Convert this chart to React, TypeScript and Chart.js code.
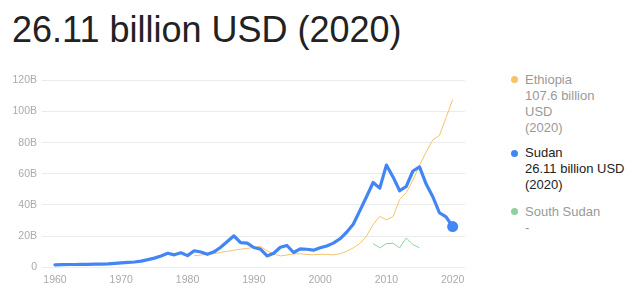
import React, { useEffect, useRef } from "react";
import { Chart, registerables } from "chart.js";

Chart.register(...registerables);

const years: number[] = Array.from({ length: 61 }, (_, i) => 1960 + i);

// GDP, billions of current USD
const sudan: (number | null)[] = [
  1.6, 1.7, 1.8, 1.8, 1.9, 1.9, 2.0, 2.1, 2.2, 2.5,
  2.8, 3.1, 3.4, 4.0, 4.9, 5.9, 7.2, 9.0, 8.0, 9.3,
  7.5, 10.6, 9.8, 8.3, 9.9, 12.9, 16.5, 20.2, 15.8, 15.5,
  12.7, 11.7, 7.3, 9.0, 12.9, 14.0, 9.5, 11.8, 11.6, 11.0,
  12.5, 13.7, 15.5, 18.3, 22.5, 27.6, 36.4, 45.3, 54.4, 50.8,
  65.6, 58.0, 49.1, 51.9, 61.8, 64.4, 53.4, 45.3, 35.0, 32.3,
  26.11,
];

const ethiopia: (number | null)[] = [
  null, null, null, null, null, null, null, null, null, null,
  null, null, null, null, null, null, null, null, null, null,
  null, 7.4, 7.9, 8.3, 8.7, 9.6, 10.2, 11.0, 11.6, 12.2,
  12.6, 13.5, 10.5, 8.6, 7.3, 7.9, 8.6, 8.7, 8.2, 8.0,
  8.3, 8.3, 8.0, 8.7, 10.2, 12.5, 15.3, 20.0, 27.5, 32.7,
  30.5, 32.5, 43.5, 48.0, 56.0, 65.5, 74.0, 81.8, 84.5, 96.0,
  107.6,
];

const southSudan: (number | null)[] = [
  null, null, null, null, null, null, null, null, null, null,
  null, null, null, null, null, null, null, null, null, null,
  null, null, null, null, null, null, null, null, null, null,
  null, null, null, null, null, null, null, null, null, null,
  null, null, null, null, null, null, null, null, 15.2, 12.5,
  15.2, 15.4, 12.5, 18.8, 14.6, 12.5, null, null, null, null,
  null,
];

const xTicks: number[] = [1960, 1970, 1980, 1990, 2000, 2010, 2020];
const yTicks: number[] = [0, 20, 40, 60, 80, 100, 120];

const title = "26.11 billion USD (2020)";

const legendItems = [
  { name: "Ethiopia", lines: ["107.6 billion", "USD", "(2020)"], color: "#f6c26b", text: "#999999", top: 71.5 },
  { name: "Sudan", lines: ["26.11 billion USD", "(2020)"], color: "#4285f4", text: "#222222", top: 145 },
  { name: "South Sudan", lines: ["-"], color: "#8fd19e", text: "#999999", top: 203.5 },
];

const FONT = '"Liberation Sans", Arial, sans-serif';

function toPoints(vals: (number | null)[]) {
  return years.map((y, i) => ({ x: y, y: vals[i] }));
}

export default function App() {
  const ref = useRef<HTMLCanvasElement | null>(null);

  useEffect(() => {
    if (!ref.current) return;
    const last = sudan.length - 1;
    const chart = new Chart(ref.current, {
      type: "line",
      data: {
        datasets: [
          {
            label: "Sudan",
            data: toPoints(sudan) as any,
            borderColor: "#4285f4",
            backgroundColor: "#4285f4",
            borderWidth: 3.2,
            pointRadius: (ctx: any) => (ctx.dataIndex === last ? 5.5 : 0),
            pointBorderWidth: 0,
            pointHoverRadius: 0,
            borderJoinStyle: "round",
            borderCapStyle: "round",
            tension: 0,
            order: 0,
          },
          {
            label: "Ethiopia",
            data: toPoints(ethiopia) as any,
            borderColor: "#f6c26b",
            borderWidth: 1,
            pointRadius: 0,
            tension: 0,
            order: 1,
          },
          {
            label: "South Sudan",
            data: toPoints(southSudan) as any,
            borderColor: "#8fd19e",
            borderWidth: 1,
            pointRadius: 0,
            tension: 0,
            order: 1,
          },
        ],
      },
      options: {
        animation: false,
        responsive: false,
        maintainAspectRatio: false,
        events: [],
        layout: { padding: { top: 18.3, right: 15, left: 0, bottom: 0 } },
        plugins: {
          legend: { display: false },
          tooltip: { enabled: false },
        },
        scales: {
          x: {
            type: "linear",
            min: 1958.04,
            max: 2021.86,
            afterBuildTicks: (axis: any) => {
              axis.ticks = xTicks.map((v) => ({ value: v }));
            },
            afterFit: (axis: any) => {
              axis.height = 34.7;
            },
            grid: { display: false, drawTicks: false },
            border: { display: false },
            ticks: {
              color: "#aaaaaa",
              font: { family: FONT, size: 10.5 },
              padding: 7,
              maxRotation: 0,
              autoSkip: false,
              callback: (v: any) => String(v),
            },
          },
          y: {
            min: 0,
            max: 120,
            afterBuildTicks: (axis: any) => {
              axis.ticks = yTicks.map((v) => ({ value: v }));
            },
            afterFit: (axis: any) => {
              axis.width = 42;
            },
            grid: { color: "#ebebeb", lineWidth: 1, drawTicks: false },
            border: { display: false },
            ticks: {
              color: "#aaaaaa",
              font: { family: FONT, size: 10.5 },
              padding: 5,
              callback: (v: any) => (v === 0 ? "0" : v + "B"),
            },
          },
        },
      },
    });
    return () => chart.destroy();
  }, []);

  return (
    <div style={{ position: "absolute", left: 0, top: 0, width: 634, height: 302, fontFamily: FONT, background: "#fff", overflow: "hidden" }}>
      <div style={{ position: "absolute", left: 12, top: 12, fontSize: 36, lineHeight: "36px", color: "#222222", whiteSpace: "nowrap" }}>
        {title}
      </div>
      <canvas ref={ref} width={480} height={240} style={{ position: "absolute", left: 0, top: 62, width: 480, height: 240 }} />
      {legendItems.map((it) => (
        <div key={it.name} style={{ position: "absolute", left: 525, top: it.top, fontSize: 13, lineHeight: "16px", color: it.text, whiteSpace: "nowrap" }}>
          <span style={{ position: "absolute", left: -14.5, top: 4.5, width: 7, height: 7, borderRadius: "50%", background: it.color }} />
          <div>{it.name}</div>
          {it.lines.map((l, i) => (
            <div key={i}>{l}</div>
          ))}
        </div>
      ))}
    </div>
  );
}
